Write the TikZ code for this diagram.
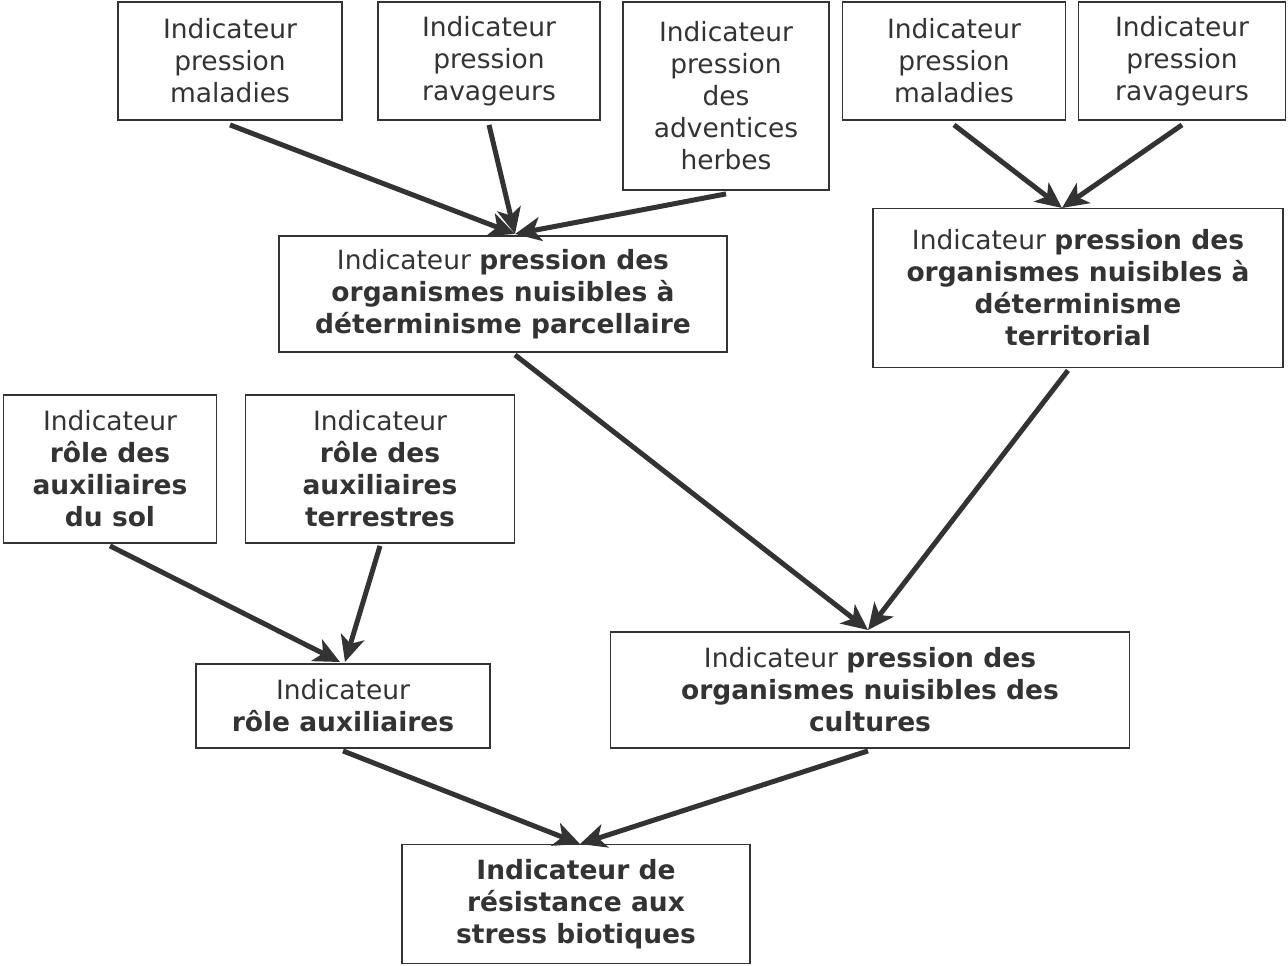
\documentclass[tikz,border=0pt]{standalone}
\usepackage{fontspec}
\setmainfont{DejaVu Sans}
\usetikzlibrary{arrows.meta}
\definecolor{ink}{HTML}{333333}
\begin{document}
\begin{tikzpicture}[x=1pt,y=-1pt,
  box/.style={draw=ink,line width=1.8pt,text=ink,align=center,inner sep=0pt,
    font=\fontsize{26.5}{32}\selectfont},
  link/.style={draw=ink,line width=5pt,-{Stealth[length=26pt,width=24pt,inset=7pt]}}]
\useasboundingbox (0,0) rectangle (1288,966);
% top row
\node[box,minimum width=224pt,minimum height=118pt] (mal1) at (230,61) {Indicateur\\pression\\maladies};
\node[box,minimum width=222pt,minimum height=118pt] (rav1) at (489,61) {Indicateur\\pression\\ravageurs};
\node[box,minimum width=206pt,minimum height=188pt] (adv) at (726,96) {Indicateur\\pression\\des\\adventices\\herbes};
\node[box,minimum width=223pt,minimum height=118pt] (mal2) at (954,61) {Indicateur\\pression\\maladies};
\node[box,minimum width=207pt,minimum height=118pt] (rav2) at (1182,61) {Indicateur\\pression\\ravageurs};
% second level
\node[box,minimum width=448pt,minimum height=116pt] (parc) at (503,294)
  {Indicateur \textbf{pression des}\\\textbf{organismes nuisibles à}\\\textbf{déterminisme parcellaire}};
\node[box,minimum width=410pt,minimum height=159pt] (terr) at (1078,288)
  {Indicateur \textbf{pression des}\\\textbf{organismes nuisibles à}\\\textbf{déterminisme}\\\textbf{territorial}};
% auxiliaires
\node[box,minimum width=213pt,minimum height=148pt] (sol) at (110,469)
  {Indicateur\\\textbf{rôle des}\\\textbf{auxiliaires}\\\textbf{du sol}};
\node[box,minimum width=269pt,minimum height=148pt] (terre) at (380,469)
  {Indicateur\\\textbf{rôle des}\\\textbf{auxiliaires}\\\textbf{terrestres}};
\node[box,minimum width=294pt,minimum height=84pt] (aux) at (343,706)
  {Indicateur\\\textbf{rôle auxiliaires}};
\node[box,minimum width=519pt,minimum height=116pt] (cult) at (870,690)
  {Indicateur \textbf{pression des}\\\textbf{organismes nuisibles des}\\\textbf{cultures}};
% final
\node[box,minimum width=348pt,minimum height=119pt] (res) at (576,904)
  {\textbf{Indicateur de}\\\textbf{résistance aux}\\\textbf{stress biotiques}};
% arrows
\draw[link] (mal1.south) ++(0,4) -- (515,234);
\draw[link] (rav1.south) ++(0,4) -- (515,234);
\draw[link] (adv.south) ++(0,3) -- (515,234);
\draw[link] (mal2.south) ++(0,4) -- (1062,208);
\draw[link] (rav2.south) ++(0,4) -- (1062,208);
\draw[link] (parc.south) ++(12,2) -- (868,630);
\draw[link] (terr.south) ++(-10,2) -- (868,630);
\draw[link] (sol.south) ++(0,2) -- (340,662);
\draw[link] (terre.south) ++(0,2) -- (345,662);
\draw[link] (aux.south) ++(0,2) -- (580,844);
\draw[link] (cult.south) ++(-2,2) -- (580,844);
\end{tikzpicture}
\end{document}
